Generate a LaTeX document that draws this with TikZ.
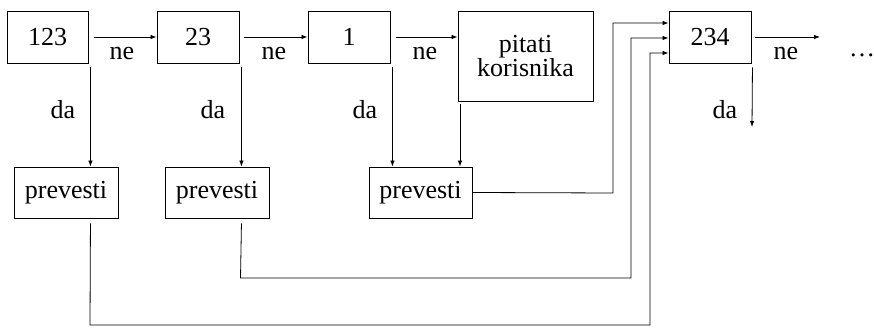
\documentclass[tikz,border=0pt]{standalone}
\usepackage{fontspec}
\setmainfont{Liberation Serif}
\usetikzlibrary{arrows.meta}
\begin{document}
\begin{tikzpicture}[x=1pt,y=-1pt,
  every node/.style={font=\fontsize{26}{28}\selectfont},
  box/.style={draw,line width=0.9pt,rectangle,inner sep=0pt,align=center},
  lbl/.style={inner sep=0pt},
  arr/.style={line width=0.8pt,-{Latex[length=6pt,width=4.5pt]}}]
\useasboundingbox (0,0) rectangle (874,328);
\node[box,minimum width=81pt,minimum height=52pt] (n123) at (47.5,37) {123};
\node[box,minimum width=82pt,minimum height=52pt] (n23) at (198,37) {23};
\node[box,minimum width=82pt,minimum height=52pt] (n1) at (349,37) {1};
\node[box,minimum width=135pt,minimum height=90pt] (pit) at (525.5,56) {pitati\\[-4pt]korisnika};
\node[box,minimum width=82pt,minimum height=52pt] (n234) at (710,37) {234};
\node[box,minimum width=104pt,minimum height=51pt] (p1) at (66,192.5) {prevesti};
\node[box,minimum width=104pt,minimum height=51pt] (p2) at (217,192.5) {prevesti};
\node[box,minimum width=103pt,minimum height=51pt] (p3) at (420.5,192.5) {prevesti};
% ne arrows
\draw[arr] ([xshift=6pt]n123.east) -- (n23.west);
\draw[arr] ([xshift=5pt]n23.east) -- (n1.west);
\draw[arr] ([xshift=6pt]n1.east) -- (pit.west |- n1.east);
\coordinate (e234) at (820,37);
\draw[arr] ([xshift=4pt]n234.east) -- (e234);
% da arrows
\draw[arr] ([shift={(2,4)}]n123.south east) coordinate (a1) -- (a1 |- p1.north);
\draw[arr] ([shift={(2,4)}]n23.south east) coordinate (a2) -- (a2 |- p2.north);
\draw[arr] ([shift={(2,4)}]n1.south east) coordinate (a3) -- (a3 |- p3.north);
\draw[arr] ([shift={(0,3)}]pit.south -| 460,0) coordinate (a4) -- (a4 |- p3.north);
\coordinate (d234) at (752,127);
\draw[arr] ([shift={(1,4)}]n234.south east) -- (d234);
% feedback lines
\draw[arr] (p3.east) -- (613,193) -- (613,23) -- (n234.west |- 0,23);
\draw[arr] ([shift={(0,5)}]a2 |- p2.south) -- (240.5,278) -- (631,278) -- (631,38) -- (n234.west |- 0,38);
\draw[arr] ([shift={(0,5)}]a1 |- p1.south) -- (90,325) -- (650,325) -- (650,53) -- (n234.west |- 0,53);
% labels
\node[lbl] (ne1) at (122,54) {ne};
\node[lbl] (ne2) at (274,54) {ne};
\node[lbl] (ne3) at (425,54) {ne};
\node[lbl] (ne4) at (786,54) {ne};
\node[lbl] (dots) at (862,55) {\dots};
\node[lbl] (da1) at (63,110) {da};
\node[lbl] (da2) at (213,110) {da};
\node[lbl] (da3) at (365,110) {da};
\node[lbl] (da4) at (725,110) {da};
\end{tikzpicture}
\end{document}
